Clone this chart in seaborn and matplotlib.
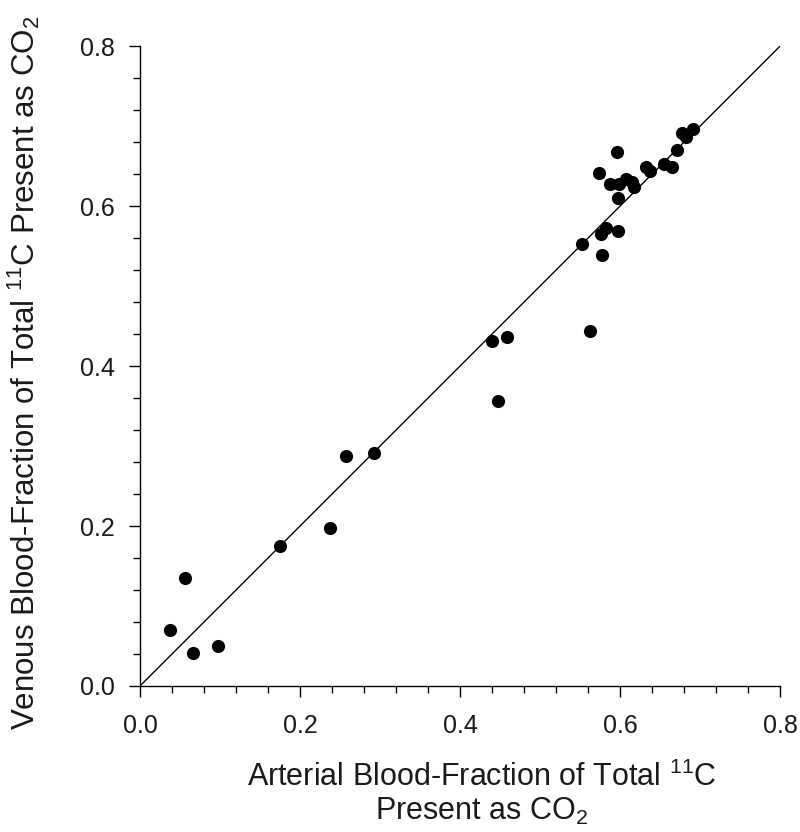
import numpy as np
import pandas as pd
import seaborn as sns
import matplotlib
matplotlib.use("Agg")
import matplotlib.pyplot as plt
from matplotlib.ticker import MultipleLocator

# arterial vs venous fraction of total 11C present as CO2
arterial = [0.038, 0.056, 0.066, 0.098, 0.175, 0.238, 0.258, 0.292,
            0.440, 0.459, 0.447, 0.563,
            0.596, 0.574, 0.587, 0.599, 0.608, 0.615, 0.617, 0.598,
            0.633, 0.638, 0.655, 0.665, 0.671, 0.677, 0.682, 0.691,
            0.583, 0.576, 0.597, 0.552, 0.577]
venous = [0.070, 0.135, 0.041, 0.050, 0.175, 0.198, 0.287, 0.291,
          0.431, 0.436, 0.356, 0.444,
          0.668, 0.642, 0.628, 0.628, 0.634, 0.630, 0.624, 0.610,
          0.649, 0.644, 0.653, 0.649, 0.670, 0.692, 0.687, 0.696,
          0.573, 0.565, 0.569, 0.553, 0.539]
identity = [0.0, 0.8]

df = pd.DataFrame({"arterial": arterial, "venous": venous})

sns.set_style("ticks")
plt.rcParams["font.family"] = ["Liberation Sans", "DejaVu Sans"]
plt.rcParams["mathtext.fontset"] = "custom"
plt.rcParams["mathtext.rm"] = "Liberation Sans"
plt.rcParams["mathtext.it"] = "Liberation Sans"

fig = plt.figure(figsize=(8, 8.32), dpi=100)
ax = fig.add_axes([0.175, 0.1755, 0.80, 0.769])

sns.lineplot(x=identity, y=identity, ax=ax, color="black", linewidth=1.0)
sns.scatterplot(data=df, x="arterial", y="venous", ax=ax, color="black",
                s=90, edgecolor="black", linewidth=0, zorder=3)

ax.set_xlim(0, 0.8)
ax.set_ylim(0, 0.8)
ax.xaxis.set_major_locator(MultipleLocator(0.2))
ax.yaxis.set_major_locator(MultipleLocator(0.2))
ax.xaxis.set_minor_locator(MultipleLocator(0.04))
ax.yaxis.set_minor_locator(MultipleLocator(0.04))
ax.xaxis.set_major_formatter(matplotlib.ticker.FormatStrFormatter("%.1f"))
ax.yaxis.set_major_formatter(matplotlib.ticker.FormatStrFormatter("%.1f"))
ax.tick_params(which="major", length=8, width=1, labelsize=18, pad=10,
               color="black", labelcolor="#1a1a1a")
ax.tick_params(axis="x", which="major", pad=12)
ax.tick_params(which="minor", length=5, width=1, color="black")
sns.despine(ax=ax)
for sp in ["left", "bottom"]:
    ax.spines[sp].set_linewidth(1)
    ax.spines[sp].set_color("black")

ax.set_xlabel("Arterial Blood-Fraction of Total $^{11}$C\nPresent as CO$_2$",
              fontsize=22, color="#1a1a1a", linespacing=1.15)
ax.xaxis.set_label_coords(0.534, -0.118)
ax.xaxis.label.set_va("top")
ax.set_ylabel("Venous Blood-Fraction of Total $^{11}$C Present as CO$_2$",
              fontsize=22.5, color="#1a1a1a")
ax.yaxis.set_label_coords(-0.153, 0.49)

fig.savefig("out.png", dpi=100)
